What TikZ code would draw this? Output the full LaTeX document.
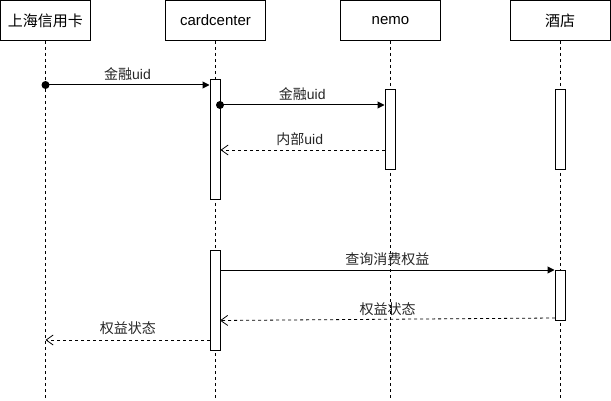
\documentclass[tikz,border=0pt]{standalone}
\usepackage{fontspec}
\setmainfont{Liberation Sans}
\newfontfamily\cjk{Noto Sans CJK SC}
\usetikzlibrary{arrows.meta}
\begin{document}
\begin{tikzpicture}[x=1pt,y=-1pt,
  head/.style={draw=black,line width=1pt,fill=white,minimum height=40pt,inner sep=0pt,font=\fontsize{15}{17}\selectfont},
  actbox/.style={draw=black,line width=1pt,fill=white,minimum width=10pt,inner sep=0pt},
  life/.style={draw=black,line width=0.8pt,dash pattern=on 3pt off 3pt},
  msg/.style={draw=black,line width=1pt,-{Triangle[length=7pt,width=7pt]}},
  ret/.style={draw=black,line width=0.8pt,dash pattern=on 3pt off 3pt,-{Straight Barb[length=7pt,width=10pt,line width=0.8pt]}},
  lbl/.style={font=\fontsize{14}{16}\selectfont,inner sep=0pt,text=black!85},
  startdot/.style={circle,fill=black,minimum size=8pt,inner sep=0pt}]
\useasboundingbox[fill=white] (0,0) rectangle (611,401);
% headers
\node[head,minimum width=90pt] (h1) at (45.5,20.5) {\cjk 上海信用卡};
\node[head,minimum width=100pt] (h2) at (215.5,20.5) {cardcenter};
\node[head,minimum width=100pt] (h3) at (390.5,20.5) {nemo};
\node[head,minimum width=100pt] (h4) at (560,20.5) {\cjk 酒店};
% lifeline ends
\coordinate (e1) at (45.5,400);
\coordinate (e2) at (215.5,400);
\coordinate (e3) at (390.5,400);
\coordinate (e4) at (560,400);
\draw[life] (h1.south) -- (e1);
\draw[life] (h2.south) -- (e2);
\draw[life] (h3.south) -- (e3);
\draw[life] (h4.south) -- (e4);
% activations
\node[actbox,minimum height=120pt] (a1) at (215,140) {};
\node[actbox,minimum height=80pt] (a2) at (390,130) {};
\node[actbox,minimum height=80pt] (a3) at (560,130) {};
\node[actbox,minimum height=100pt] (a4) at (215,300) {};
\node[actbox,minimum height=50pt] (a5) at (560,295) {};
% message 1
\node[startdot] (d1) at (45.5,85) {};
\draw[msg] (d1.center) -- (a1.west |- d1) node[lbl,midway,yshift=10.5pt] {{\cjk 金融}uid};
% message 2
\node[startdot] (d2) at (220,105) {};
\draw[msg] (d2.center) -- (a2.west |- d2) node[lbl,midway,yshift=10.5pt] {{\cjk 金融}uid};
% return 1
\coordinate (r1) at (385,150);
\draw[ret] (r1) -- (a1.east |- r1) node[lbl,midway,yshift=10.5pt,xshift=-3pt] {{\cjk 内部}uid};
% message 3
\coordinate (s3) at (220,270);
\draw[msg] (s3) -- (a5.west |- s3) node[lbl,midway,yshift=10.5pt] {\cjk 查询消费权益};
% return 2
\coordinate (r2) at (555,318);
\coordinate (t2) at (220,320.5);
\draw[ret] (r2) -- (t2) node[lbl,midway,yshift=10.5pt] {\cjk 权益状态};
% return 3
\coordinate (r3) at (210,340);
\draw[ret] (r3) -- (h1.south |- r3) node[lbl,midway,yshift=11.5pt] {\cjk 权益状态};
\end{tikzpicture}
\end{document}
